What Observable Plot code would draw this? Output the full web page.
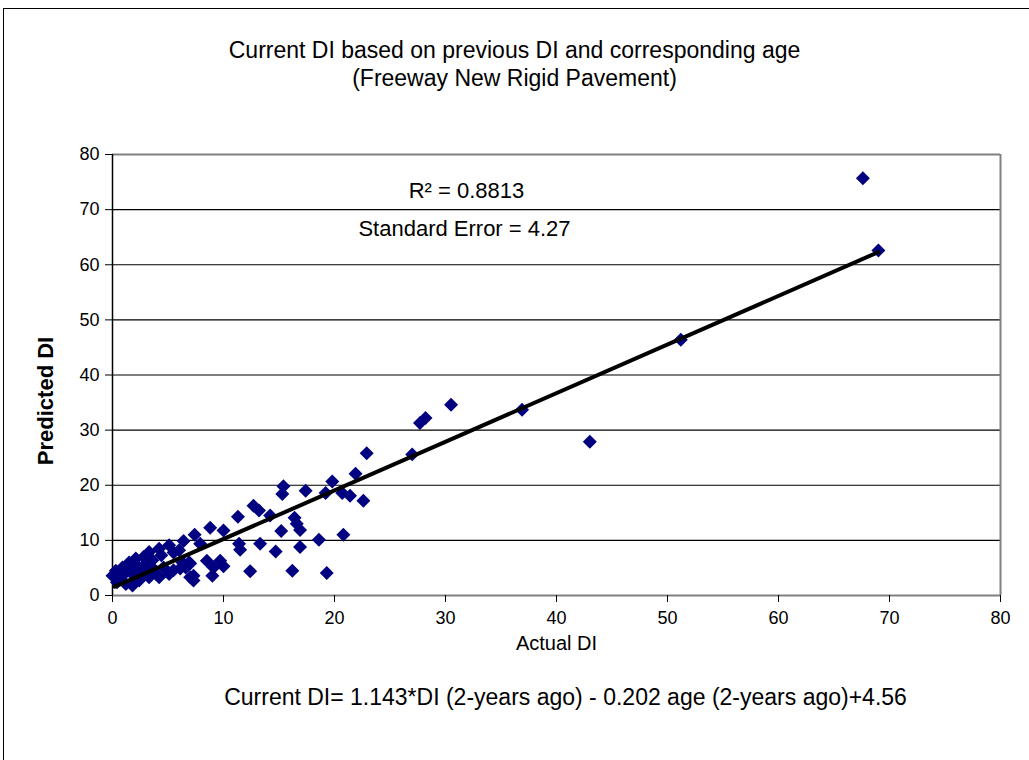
<!DOCTYPE html>
<html>
<head>
<meta charset="utf-8">
<script src="https://cdn.jsdelivr.net/npm/d3@7"></script>
<script src="https://cdn.jsdelivr.net/npm/@observablehq/plot@0.6"></script>
<style>
  html, body { margin: 0; padding: 0; background: #fff; overflow: hidden; }
  #wrap { position: relative; width: 1029px; height: 760px; overflow: hidden; }
  #outer { position: absolute; left: 3px; top: 8px; width: 1100px; height: 800px;
           border-left: 1px solid #000; border-top: 1px solid #000; }
  #chart { position: absolute; left: 0; top: 0; }
</style>
</head>
<body>
<div id="wrap"><div id="outer"></div><div id="chart"></div></div>
<script>
// Actual DI (x) and Predicted DI (y)
const actualDI = [
  67.6, 69.0, 51.2, 43.0, 36.9, 30.5, 28.2, 27.7, 27.0,
  22.9, 21.9, 19.8, 19.2, 20.7, 21.4, 22.6, 17.4, 15.4, 15.3, 14.2, 16.4, 16.6, 16.9, 15.2,
  18.6, 20.8, 16.9, 14.7, 16.2, 19.3,
  12.7, 13.2, 11.3, 8.8, 10.0, 7.4, 6.4, 7.9, 11.4, 11.5, 13.3, 7.0, 8.5, 9.7, 9.1, 10.0,
  9.0, 7.3, 6.1, 12.4,
  0.0, 0.3, 0.9, 1.5, 2.1, 2.8, 3.3, 4.2, 5.1,
  0.4, 1.2, 1.8, 2.4, 3.3, 4.2, 5.1, 4.6, 3.7, 2.7, 6.6, 7.0, 7.3,
  1.0, 1.6, 2.3, 3.0, 3.6, 4.4, 5.5, 6.0, 0.6, 2.0, 3.9, 5.5, 6.3, 6.9
];
const predictedDI = [
  75.7, 62.6, 46.4, 27.9, 33.7, 34.6, 32.2, 31.3, 25.6,
  25.8, 22.1, 20.7, 18.6, 18.6, 18.1, 17.2, 19.0, 19.8, 18.4, 14.5, 14.1, 13.0, 11.9, 11.7,
  10.1, 11.0, 8.8, 8.0, 4.5, 4.1,
  16.3, 15.4, 14.3, 12.3, 11.8, 11.0, 9.9, 9.4, 9.4, 8.3, 9.4, 5.8, 6.3, 6.3, 5.1, 5.3,
  3.6, 3.6, 4.9, 4.4,
  3.6, 4.5, 5.1, 6.0, 6.7, 7.0, 7.9, 8.5, 9.1,
  2.4, 2.1, 1.8, 2.7, 3.3, 3.3, 3.9, 5.1, 4.8, 4.5, 5.1, 3.3, 2.7,
  3.8, 4.3, 5.2, 5.8, 6.4, 7.3, 7.8, 8.2, 3.1, 3.5, 4.0, 4.6, 6.0, 6.0
];
// Linear trend line end points
const trendX = [0.2, 69.0];
const trendY = [1.6, 62.3];
// Tick values
const xTicks = [0, 10, 20, 30, 40, 50, 60, 70, 80];
const yTicks = [0, 10, 20, 30, 40, 50, 60, 70, 80];

const titleLines = ["Current DI based on previous DI and corresponding age", "(Freeway New Rigid Pavement)"];
const xLabel = "Actual DI";
const yLabel = "Predicted DI";
const r2Text = "R² = 0.8813";
const seText = "Standard Error = 4.27";
const equationText = "Current DI= 1.143*DI (2-years ago) - 0.202 age (2-years ago)+4.56";

const points = actualDI.map((x, i) => ({x, y: predictedDI[i]}));
const trend = trendX.map((x, i) => ({x, y: trendY[i]}));

const FONT = "'Liberation Sans', Arial, Helvetica, sans-serif";
const fs = 18;

const chart = Plot.plot({
  width: 1029,
  height: 760,
  marginLeft: 112,
  marginRight: 29,
  marginTop: 154,
  marginBottom: 165,
  style: {fontFamily: FONT, fontSize: fs + "px", color: "#000", background: "transparent"},
  x: {domain: [0, 80], ticks: xTicks},
  y: {domain: [0, 80], ticks: yTicks},
  marks: [
    Plot.ruleY(yTicks.filter(d => d > 0 && d < 80), {stroke: "#000", strokeWidth: 1.2}),
    Plot.ruleY([80], {stroke: "#808080", strokeWidth: 2}),
    Plot.ruleY([0], {stroke: "#808080", strokeWidth: 2}),
    Plot.ruleX([80], {stroke: "#808080", strokeWidth: 2}),
    Plot.ruleX([0], {stroke: "#000", strokeWidth: 1.5}),
    Plot.axisX({ticks: xTicks, tickSize: 7, tickPadding: 9, stroke: "#000", fontSize: fs, label: null, tickFormat: d => String(d)}),
    Plot.axisY({ticks: yTicks, tickSize: 7, tickPadding: 6, stroke: "#000", fontSize: fs, label: null, tickFormat: d => String(d)}),
    Plot.dot(points, {x: "x", y: "y", symbol: "diamond2", r: 6.3, fill: "#000080", stroke: "none"}),
    Plot.line(trend, {x: "x", y: "y", stroke: "#000", strokeWidth: 4}),
    Plot.text([titleLines[0]], {frameAnchor: "top", lineAnchor: "middle", dx: -42, dy: -104, fontSize: 23, fill: "#000"}),
    Plot.text([titleLines[1]], {frameAnchor: "top", lineAnchor: "middle", dx: -42, dy: -76, fontSize: 23, fill: "#000"}),
    Plot.text([r2Text], {frameAnchor: "top", lineAnchor: "middle", dx: -90, dy: 36, fontSize: 22, fill: "#000"}),
    Plot.text([seText], {frameAnchor: "top", lineAnchor: "middle", dx: -92, dy: 74, fontSize: 22, fill: "#000"}),
    Plot.text([xLabel], {frameAnchor: "bottom", lineAnchor: "middle", dx: 0, dy: 48, fontSize: 20, fill: "#000"}),
    Plot.text([equationText], {frameAnchor: "bottom", lineAnchor: "middle", dx: 9, dy: 102, fontSize: 23, fill: "#000"}),
    Plot.text([yLabel], {frameAnchor: "left", lineAnchor: "middle", textAnchor: "middle", dx: -67, dy: 26, rotate: -90, fontSize: 22, fontWeight: "bold", fill: "#000"})
  ]
});
document.getElementById("chart").appendChild(chart);
</script>
</body>
</html>
